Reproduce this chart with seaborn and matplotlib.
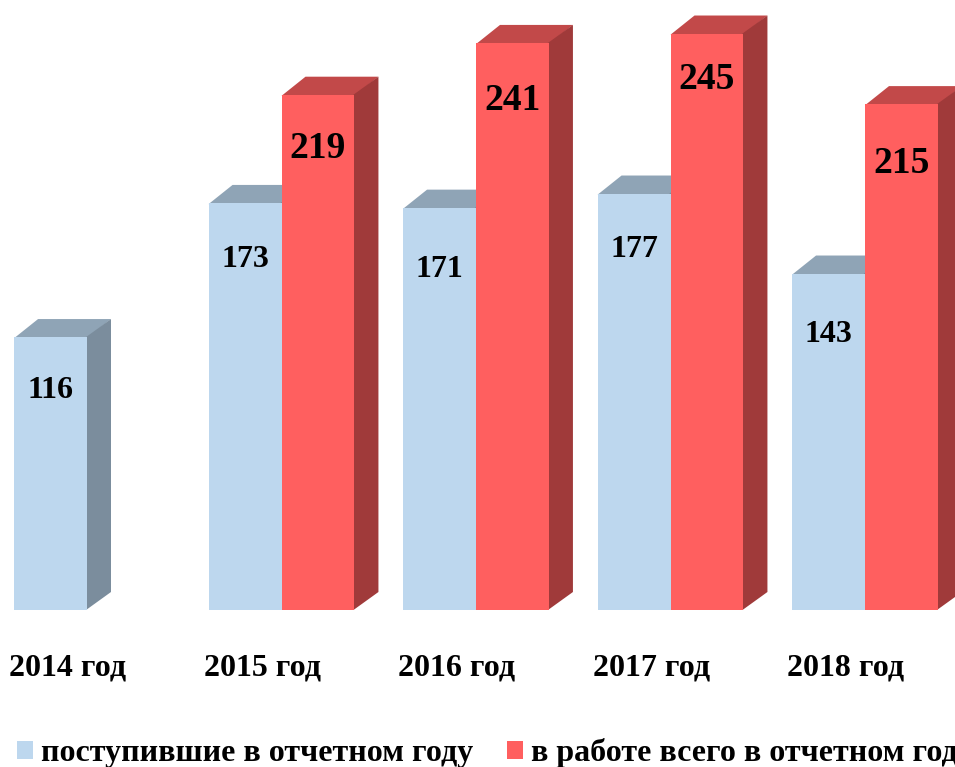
import matplotlib
matplotlib.use('Agg')
import matplotlib.pyplot as plt
from matplotlib.patches import Polygon
from matplotlib.transforms import ScaledTranslation
import seaborn as sns
import pandas as pd
import numpy as np

# Data
years = ['2014 год', '2015 год', '2016 год', '2017 год', '2018 год']
series_names = ['поступившие в отчетном году', 'в работе всего в отчетном году']
received = [116, 173, 171, 177, 143]
in_work = [np.nan, 219, 241, 245, 215]

# Colours: front, top, side
colors = {series_names[0]: ('#BDD7EE', '#8FA4B6', '#7B8D9D'),
          series_names[1]: ('#FF5F5F', '#C24949', '#A03A3A')}

# Layout, in pixels
W, H = 955, 767
baseline = 610
px_per_unit = 2.353
pitch = 194.5
first_center = 87
depth_x, depth_y = 24, 18
# how far each value label sits under its bar top
drop_received = [53, 57, 62, 56, 61]
drop_in_work = [0, 54, 58, 46, 59]

df = pd.DataFrame({
    'year': years * 2,
    'series': [series_names[0]] * 5 + [series_names[1]] * 5,
    'value': received + in_work,
})

sns.set_theme(style='white')
plt.rcParams['font.family'] = ['Liberation Serif', 'DejaVu Serif']
plt.rcParams['font.weight'] = 'bold'

fig = plt.figure(figsize=(W / 100, H / 100), dpi=100)
ax = fig.add_axes([0, (H - baseline) / H, 1, baseline / H])
palette = {k: v[0] for k, v in colors.items()}
sns.barplot(data=df, x='year', y='value', hue='series', order=years,
            hue_order=series_names, palette=palette, width=0.75, saturation=1,
            linewidth=0, ax=ax)
ax.set_xlim(-first_center / pitch, (W - first_center) / pitch)
ax.set_ylim(0, baseline / px_per_unit)
ax.set_xlabel('')
ax.set_ylabel('')
ax.set_yticks([])
sns.despine(ax=ax, left=True, bottom=True)

# Fake 3D: top and side faces built from the bars seaborn drew
dx = depth_x / pitch
dy = depth_y / px_per_unit
seam = 0.005
bars = [p for p in ax.patches if p.get_height() > 0]
for bar in bars:
    name = series_names[0] if bar.get_facecolor()[2] > 0.5 else series_names[1]
    x0 = bar.get_x()
    x1 = x0 + bar.get_width()
    top = bar.get_height()
    z = 2 if name == series_names[0] else 4
    bar.set_zorder(z + 0.5)
    ax.add_patch(Polygon([(x0, top - 0.5), (x1, top - 0.5), (x1 + dx, top + dy), (x0 + dx, top + dy)],
                         facecolor=colors[name][1], edgecolor='none', zorder=z, clip_on=False))
    ax.add_patch(Polygon([(x1 - seam, 0), (x1 - seam, top), (x1 + dx, top + dy), (x1 + dx, dy)],
                         facecolor=colors[name][2], edgecolor='none', zorder=z + 0.1, clip_on=False))

# Value labels
for i in range(len(years)):
    ax.annotate(str(received[i]), (i - 0.1875, received[i]), xytext=(0, -drop_received[i]),
                textcoords='offset pixels', ha='center', va='center',
                fontsize=23, fontweight='bold', color='black', zorder=10)
    if not np.isnan(in_work[i]):
        ax.annotate(str(int(in_work[i])), (i + 0.1875, in_work[i]), xytext=(0, -drop_in_work[i]),
                    textcoords='offset pixels', ha='center', va='center',
                    fontsize=27, fontweight='bold', color='black', zorder=10)

# Year labels sit left of the group centre
ax.tick_params(axis='x', length=0, pad=31)
shift = ScaledTranslation(-19 / 100, 0, fig.dpi_scale_trans)
for label in ax.get_xticklabels():
    label.set_fontsize(23)
    label.set_fontweight('bold')
    label.set_color('black')
    label.set_transform(label.get_transform() + shift)

sns.move_legend(ax, 'lower left', bbox_to_anchor=(17 / W, -1 / H),
                bbox_transform=fig.transFigure, ncol=2, title=None, frameon=False,
                handlelength=0.5, handleheight=0.5, handletextpad=0.25,
                columnspacing=1.05, borderpad=0, borderaxespad=0, labelcolor='black',
                prop={'size': 23, 'weight': 'bold'})

fig.savefig('out.png', dpi=100)
